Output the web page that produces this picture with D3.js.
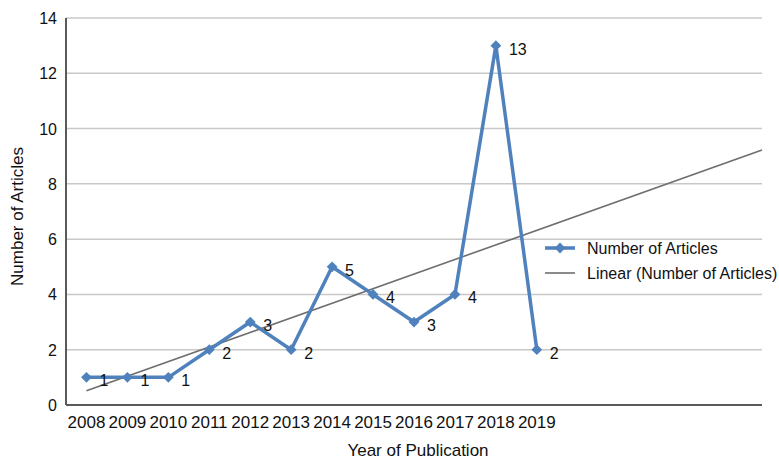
<!DOCTYPE html>
<html>
<head>
<meta charset="utf-8">
<script src="https://cdn.jsdelivr.net/npm/d3@7/dist/d3.min.js"></script>
<style>
  body { margin: 0; background: #fff; }
  text { font-family: "Liberation Sans", Arial, sans-serif; fill: #111; }
</style>
</head>
<body>
<div id="chart"></div>
<script>
'use strict';

const years = ['2008', '2009', '2010', '2011', '2012', '2013', '2014', '2015', '2016', '2017', '2018', '2019'];
const articles = [1, 1, 1, 2, 3, 2, 5, 4, 3, 4, 13, 2];
const yTicks = [0, 2, 4, 6, 8, 10, 12, 14];
const forecastSlots = 5; // trendline is extended past the last year

const width = 779, height = 459;
const margin = { top: 18, right: 17, bottom: 54, left: 66 };

const $svg = d3.select('#chart').append('svg')
  .attr('width', width)
  .attr('height', height);

const totalSlots = years.length + forecastSlots;
const x = d3.scaleLinear()
  .domain([-0.5, totalSlots - 0.5])
  .range([margin.left, width - margin.right]);
const y = d3.scaleLinear()
  .domain([0, 14])
  .range([height - margin.bottom, margin.top]);

// gridlines
$svg.append('g').selectAll('.grid')
  .data(yTicks.slice(1))
  .enter()
  .append('line')
  .attr('class', 'grid')
  .attr('x1', margin.left)
  .attr('x2', width - margin.right)
  .attr('y1', (d) => y(d))
  .attr('y2', (d) => y(d))
  .attr('stroke', '#c8c8c8')
  .attr('stroke-width', 1.5);

// y tick labels
$svg.append('g').selectAll('.ytick')
  .data(yTicks)
  .enter()
  .append('text')
  .attr('class', 'ytick')
  .attr('x', margin.left - 9)
  .attr('y', (d) => y(d) + 6)
  .attr('text-anchor', 'end')
  .attr('font-size', 16)
  .text((d) => d);

// x tick labels
$svg.append('g').selectAll('.xtick')
  .data(years)
  .enter()
  .append('text')
  .attr('class', 'xtick')
  .attr('x', (d, i) => x(i))
  .attr('y', height - margin.bottom + 23)
  .attr('text-anchor', 'middle')
  .attr('font-size', 17)
  .text((d) => d);

// axes lines
$svg.append('line')
  .attr('x1', margin.left).attr('x2', margin.left)
  .attr('y1', margin.top).attr('y2', y(0))
  .attr('stroke', '#5a5a5a').attr('stroke-width', 2);
$svg.append('line')
  .attr('x1', margin.left).attr('x2', width - margin.right)
  .attr('y1', y(0)).attr('y2', y(0))
  .attr('stroke', '#5a5a5a').attr('stroke-width', 2);

// linear trend (least squares over the data)
const xs = articles.map((d, i) => i);
const mx = d3.mean(xs), my = d3.mean(articles);
const slope = d3.sum(xs, (v, i) => (v - mx) * (articles[i] - my)) / d3.sum(xs, (v) => (v - mx) * (v - mx));
const intercept = my - slope * mx;
const trendEnd = totalSlots - 0.5;

$svg.append('line')
  .attr('x1', x(0)).attr('y1', y(intercept))
  .attr('x2', x(trendEnd)).attr('y2', y(intercept + slope * trendEnd))
  .attr('stroke', '#6e6e6e')
  .attr('stroke-width', 1.6);

// series
const blue = '#4f81bd';
const line = d3.line()
  .x((d, i) => x(i))
  .y((d) => y(d));

$svg.append('path')
  .attr('d', line(articles))
  .attr('fill', 'none')
  .attr('stroke', blue)
  .attr('stroke-width', 3.5)
  .attr('stroke-linejoin', 'round');

const diamond = d3.symbol().type(d3.symbolSquare).size(58);

$svg.append('g').selectAll('.marker')
  .data(articles)
  .enter()
  .append('path')
  .attr('class', 'marker')
  .attr('d', diamond)
  .attr('transform', (d, i) => 'translate(' + x(i) + ',' + y(d) + ') rotate(45)')
  .attr('fill', blue);

$svg.append('g').selectAll('.label')
  .data(articles)
  .enter()
  .append('text')
  .attr('class', 'label')
  .attr('x', (d, i) => x(i) + 13)
  .attr('y', (d) => y(d) + 9)
  .attr('font-size', 16)
  .text((d) => d);

// axis titles
$svg.append('text')
  .attr('x', 418)
  .attr('y', height - 3)
  .attr('text-anchor', 'middle')
  .attr('font-size', 17)
  .text('Year of Publication');

$svg.append('text')
  .attr('transform', 'translate(23,' + ((margin.top + y(0)) / 2 + 5) + ') rotate(-90)')
  .attr('text-anchor', 'middle')
  .attr('font-size', 17)
  .text('Number of Articles');

// legend
const $legend = $svg.append('g').attr('transform', 'translate(545,248)');
$legend.append('line')
  .attr('x1', 0).attr('x2', 30).attr('y1', 0).attr('y2', 0)
  .attr('stroke', blue).attr('stroke-width', 3.5);
$legend.append('path')
  .attr('d', diamond)
  .attr('transform', 'translate(15,0) rotate(45)')
  .attr('fill', blue);
$legend.append('text')
  .attr('x', 42).attr('y', 6)
  .attr('font-size', 16)
  .text('Number of Articles');
$legend.append('line')
  .attr('x1', 0).attr('x2', 30).attr('y1', 25).attr('y2', 25)
  .attr('stroke', '#6e6e6e').attr('stroke-width', 1.6);
$legend.append('text')
  .attr('x', 42).attr('y', 31)
  .attr('font-size', 16)
  .text('Linear (Number of Articles)');
</script>
</body>
</html>
